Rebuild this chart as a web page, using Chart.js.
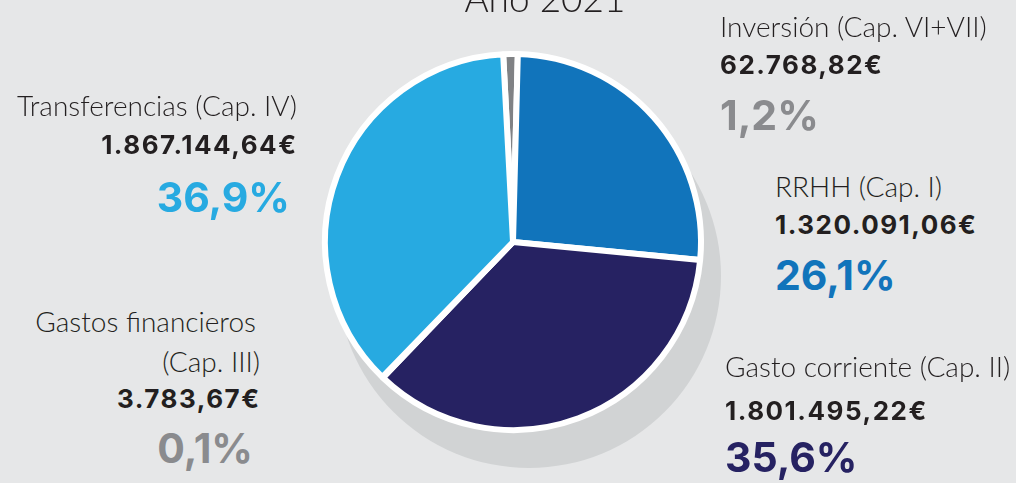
<!DOCTYPE html>
<html>
<head>
<meta charset="utf-8">
<script src="https://cdn.jsdelivr.net/npm/chart.js@4"></script>
<style>
  html, body { margin: 0; padding: 0; }
  body { width: 1016px; height: 483px; background: #e6e7e8; position: relative; overflow: hidden; font-family: Inter, "Open Sans", sans-serif; }
  #wrap { position: absolute; left: 283px; top: 12px; width: 460px; height: 460px; }
  .t { position: absolute; white-space: nowrap; line-height: 1; }
  .light { font-family: "Lato Light", Lato, "Open Sans", sans-serif; font-weight: 300; }
</style>
</head>
<body>
<div id="wrap"><canvas id="pie" width="460" height="460"></canvas></div>
<script>
// data
const categories = ["Inversión (Cap. VI+VII)", "RRHH (Cap. I)", "Gasto corriente (Cap. II)", "Gastos financieros (Cap. III)", "Transferencias (Cap. IV)"];
const amounts = [62768.82, 1320091.06, 1801495.22, 3783.67, 1867144.64];
const sliceColors = ["#808285", "#1174bb", "#262262", "#58595b", "#27aae1"];
const pctColors = ["#8a8b8e", "#1174bb", "#262262", "#8a8b8e", "#27aae1"];
const title = "Año 2021";

const total = amounts.reduce((a, b) => a + b, 0);

function euro(v) {
  let parts = v.toFixed(2).split(".");
  let ent = parts[0].replace(/\B(?=(\d{3})+(?!\d))/g, ".");
  return ent + "," + parts[1] + "€";
}
function pct(v) {
  return (v / total * 100).toFixed(1).replace(".", ",") + "%";
}

// text placing, baseline based
function place(text, x, base, size, weight, color, align, cls, ls) {
  const el = document.createElement("div");
  el.className = "t" + (cls ? " " + cls : "");
  el.textContent = text;
  el.style.fontSize = size + "px";
  if (!cls) el.style.fontWeight = weight;
  if (ls) el.style.letterSpacing = ls + "px";
  el.style.color = color;
  el.style.top = (base - (cls ? 0.887 : 0.864) * size) + "px";
  if (align == "right") el.style.right = (1016 - x - (ls || 0)) + "px";
  else if (align == "center") { el.style.left = x + "px"; el.style.transform = "translateX(-50%)"; }
  else el.style.left = x + "px";
  document.body.appendChild(el);
}

place(title, 545, 12, 37, 300, "#231f20", "center", "light");

// label blocks: [x, baselines of name / amount / percent, align]
const blocks = [
  [720, [37, 74, 130], "left"],
  [775, [197, 234, 290], "left"],
  [725, [377, 420, 472], "left"],
  [260, [372, 408, 463], "right"],
  [297, [116, 154, 212], "right"],
];
const nameSize = 28;
blocks.forEach((b, i) => {
  let x = b[0], ys = b[1], al = b[2];
  if (i == 3) {
    // nombre partido en dos lineas
    place("Gastos financieros", x - 4, 332, nameSize, 300, "#231f20", al, "light");
    place("(Cap. III)", x, ys[0], nameSize, 300, "#231f20", al, "light");
  } else {
    place(categories[i], x, ys[0], nameSize, 300, "#231f20", al, "light");
  }
  place(euro(amounts[i]), al == "right" ? x - 1 : x, ys[1], 26, 700, "#231f20", al, null, 1.5);
  place(pct(amounts[i]), al == "right" ? x - 7 : x, ys[2], 41, 700, pctColors[i], al);
});

// sombra gris debajo de la tarta
const shadow = {
  id: "shadow",
  beforeDatasetsDraw(chart) {
    const arc = chart.getDatasetMeta(0).data[0];
    const c = chart.ctx;
    c.save();
    c.fillStyle = "#d1d3d4";
    c.beginPath();
    c.arc(arc.x + 16, arc.y + 34, arc.outerRadius + 4, 0, Math.PI * 2);
    c.fill();
    c.restore();
  }
};

new Chart(document.getElementById("pie"), {
  type: "pie",
  data: {
    labels: categories,
    datasets: [{
      data: amounts,
      backgroundColor: sliceColors,
      borderColor: "#ffffff",
      borderWidth: 6,
    }],
  },
  options: {
    responsive: false,
    animation: false,
    events: [],
    rotation: -3,
    radius: 188,
    layout: { padding: 0 },
    plugins: {
      legend: { display: false },
      tooltip: { enabled: false },
    },
  },
  plugins: [shadow],
});
</script>
</body>
</html>
